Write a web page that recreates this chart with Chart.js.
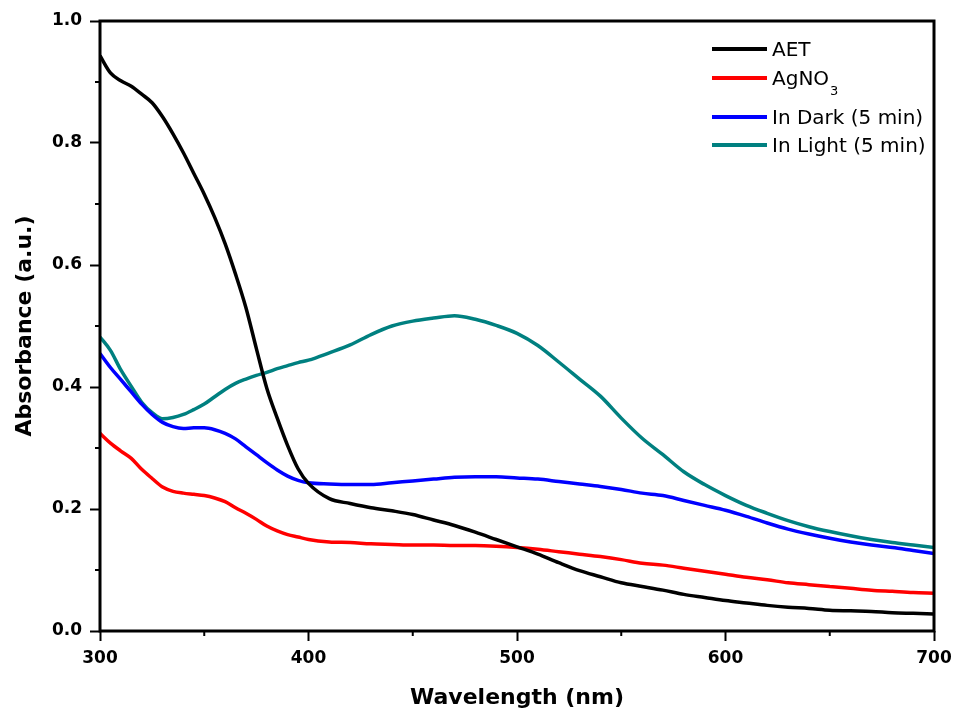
<!DOCTYPE html>
<html>
<head>
<meta charset="utf-8">
<script src="https://cdn.jsdelivr.net/npm/chart.js@4.4.1/dist/chart.umd.min.js"></script>
<style>
  html, body { margin: 0; padding: 0; background: #fff; }
  #wrap { width: 953px; height: 715px; }
</style>
</head>
<body>
<div id="wrap"><canvas id="myChart"></canvas></div>
<script>
// wavelength grid (nm) shared by all spectra
const wavelengths = [300, 305, 310, 315, 320, 325, 330, 335, 340, 345, 350, 355, 360, 365, 370, 375, 380, 385, 390, 395,
  400, 410, 420, 430, 440, 450, 460, 470, 480, 490, 500, 510, 520, 530, 540, 550, 560, 570, 580, 590,
  600, 610, 620, 630, 640, 650, 660, 670, 680, 690, 700];

const aet = [0.943, 0.915, 0.902, 0.893, 0.880, 0.866, 0.843, 0.815, 0.784, 0.750, 0.716, 0.678, 0.635, 0.585, 0.530, 0.463, 0.398, 0.349, 0.304, 0.266,
  0.242, 0.217, 0.209, 0.202, 0.197, 0.191, 0.182, 0.173, 0.162, 0.150, 0.138, 0.126, 0.112, 0.099, 0.089, 0.079, 0.073, 0.067, 0.060, 0.055,
  0.050, 0.046, 0.042, 0.039, 0.037, 0.034, 0.033, 0.032, 0.030, 0.029, 0.028];

const agno3 = [0.324, 0.308, 0.295, 0.283, 0.265, 0.250, 0.236, 0.229, 0.226, 0.224, 0.222, 0.218, 0.212, 0.202, 0.193, 0.183, 0.172, 0.164, 0.158, 0.154,
  0.150, 0.146, 0.145, 0.143, 0.142, 0.141, 0.141, 0.140, 0.140, 0.139, 0.137, 0.134, 0.130, 0.126, 0.122, 0.117, 0.111, 0.108, 0.103, 0.098,
  0.093, 0.088, 0.084, 0.079, 0.076, 0.073, 0.070, 0.067, 0.065, 0.063, 0.062];

const inDark = [0.455, 0.432, 0.412, 0.392, 0.372, 0.355, 0.342, 0.335, 0.332, 0.333, 0.333, 0.330, 0.324, 0.315, 0.302, 0.289, 0.276, 0.264, 0.254, 0.247,
  0.243, 0.241, 0.240, 0.240, 0.243, 0.246, 0.249, 0.252, 0.253, 0.253, 0.251, 0.249, 0.245, 0.241, 0.237, 0.232, 0.226, 0.222, 0.214, 0.206,
  0.198, 0.188, 0.177, 0.167, 0.159, 0.152, 0.146, 0.141, 0.137, 0.132, 0.127];

const inLight = [0.482, 0.460, 0.428, 0.401, 0.375, 0.358, 0.348, 0.350, 0.355, 0.363, 0.372, 0.384, 0.396, 0.406, 0.413, 0.419, 0.424, 0.430, 0.435, 0.440,
  0.444, 0.456, 0.469, 0.486, 0.500, 0.508, 0.513, 0.517, 0.511, 0.501, 0.488, 0.468, 0.441, 0.413, 0.385, 0.349, 0.316, 0.289, 0.261, 0.240,
  0.222, 0.206, 0.193, 0.181, 0.171, 0.163, 0.156, 0.150, 0.145, 0.141, 0.137];

const seriesNames = ["AET", "AgNO₃", "In Dark (5 min)", "In Light (5 min)"];
const seriesColors = ["#000000", "#ff0000", "#0000ff", "#008080"];
const seriesValues = [aet, agno3, inDark, inLight];

const FONT = "'DejaVu Sans', sans-serif";

function makeDataSet(values, label, color){
  return {
    label: label,
    data: wavelengths.map((w, i) => ({ x: w, y: values[i] })),
    borderColor: color,
    backgroundColor: color,
    borderWidth: 3.5,
    pointRadius: 0,
    cubicInterpolationMode: "monotone",
    fill: false
  };
}

function isMajor(value, step){
  return Math.round(value / step) % 2 === 0;
}

// frame, minor ticks and legend
const framePlugin = {
  id: "frame",
  afterDraw(chart){
    const c = chart.ctx;
    const area = chart.chartArea;
    const xs = chart.scales.x, ys = chart.scales.y;
    c.save();
    c.strokeStyle = "#000";
    c.lineWidth = 2;
    xs.ticks.forEach(t => {
      if (isMajor(t.value - 300, 50)) return;
      const px = xs.getPixelForValue(t.value);
      c.beginPath(); c.moveTo(px, area.bottom); c.lineTo(px, area.bottom + 5); c.stroke();
    });
    ys.ticks.forEach(t => {
      if (isMajor(t.value, 0.1)) return;
      const py = ys.getPixelForValue(t.value);
      c.beginPath(); c.moveTo(area.left, py); c.lineTo(area.left - 5, py); c.stroke();
    });
    c.lineWidth = 3;
    c.strokeRect(area.left, area.top, area.right - area.left, area.bottom - area.top);

    // legend
    const rows = [28, 57, 96, 124];
    const x0 = area.right - 222;
    chart.data.datasets.forEach((ds, i) => {
      const y = area.top + rows[i];
      c.strokeStyle = ds.borderColor;
      c.lineWidth = 4;
      c.beginPath(); c.moveTo(x0, y); c.lineTo(x0 + 55, y); c.stroke();
      c.fillStyle = "#000";
      c.textBaseline = "alphabetic";
      c.textAlign = "left";
      const m = ds.label.match(/^(.*?)([₀-₉]+)$/);
      c.font = "20px " + FONT;
      if (m){
        c.fillText(m[1], x0 + 60, y + 7);
        const w = c.measureText(m[1]).width;
        const sub = m[2].split("").map(ch => String(ch.charCodeAt(0) - 0x2080)).join("");
        c.font = "13px " + FONT;
        c.fillText(sub, x0 + 61 + w, y + 17);
      } else {
        c.fillText(ds.label, x0 + 60, y + 7);
      }
    });
    c.restore();
  }
};

const chartData = {
  type: "line",
  data: {
    datasets: seriesValues.map((v, i) => makeDataSet(v, seriesNames[i], seriesColors[i]))
  },
  options: {
    responsive: true,
    maintainAspectRatio: false,
    animation: false,
    layout: { padding: { left: 0, top: 21, right: 19, bottom: 0 } },
    plugins: { legend: { display: false }, tooltip: { enabled: false } },
    scales: {
      x: {
        type: "linear",
        min: 300,
        max: 700,
        afterFit: s => { s.height = 84; s.paddingLeft = 0; s.paddingRight = 0; },
        border: { display: false },
        grid: {
          drawOnChartArea: false,
          drawTicks: true,
          tickLength: 10,
          tickWidth: 2,
          tickColor: ctx => isMajor(ctx.tick.value - 300, 50) ? "#000" : "rgba(0,0,0,0)"
        },
        ticks: {
          stepSize: 50,
          padding: 7,
          color: "#000",
          font: { family: FONT, size: 17, weight: "bold" },
          callback: v => isMajor(v - 300, 50) ? String(v) : ""
        },
        title: {
          display: true,
          text: "Wavelength (nm)",
          color: "#000",
          font: { family: FONT, size: 22, weight: "bold" },
          padding: { top: 0, bottom: 4 }
        }
      },
      y: {
        min: 0,
        max: 1.0,
        afterFit: s => { s.width = 100; s.paddingTop = 0; s.paddingBottom = 0; },
        border: { display: false },
        grid: {
          drawOnChartArea: false,
          drawTicks: true,
          tickLength: 10,
          tickWidth: 2,
          tickColor: ctx => isMajor(ctx.tick.value, 0.1) ? "#000" : "rgba(0,0,0,0)"
        },
        ticks: {
          stepSize: 0.1,
          padding: 8,
          color: "#000",
          font: { family: FONT, size: 17, weight: "bold" },
          callback: v => isMajor(v, 0.1) ? v.toFixed(1) : ""
        },
        title: {
          display: true,
          text: "Absorbance (a.u.)",
          color: "#000",
          font: { family: FONT, size: 22, weight: "bold" },
          padding: { top: 12, bottom: 0 }
        }
      }
    }
  },
  plugins: [framePlugin]
};

new Chart(document.getElementById("myChart"), chartData);
</script>
</body>
</html>
